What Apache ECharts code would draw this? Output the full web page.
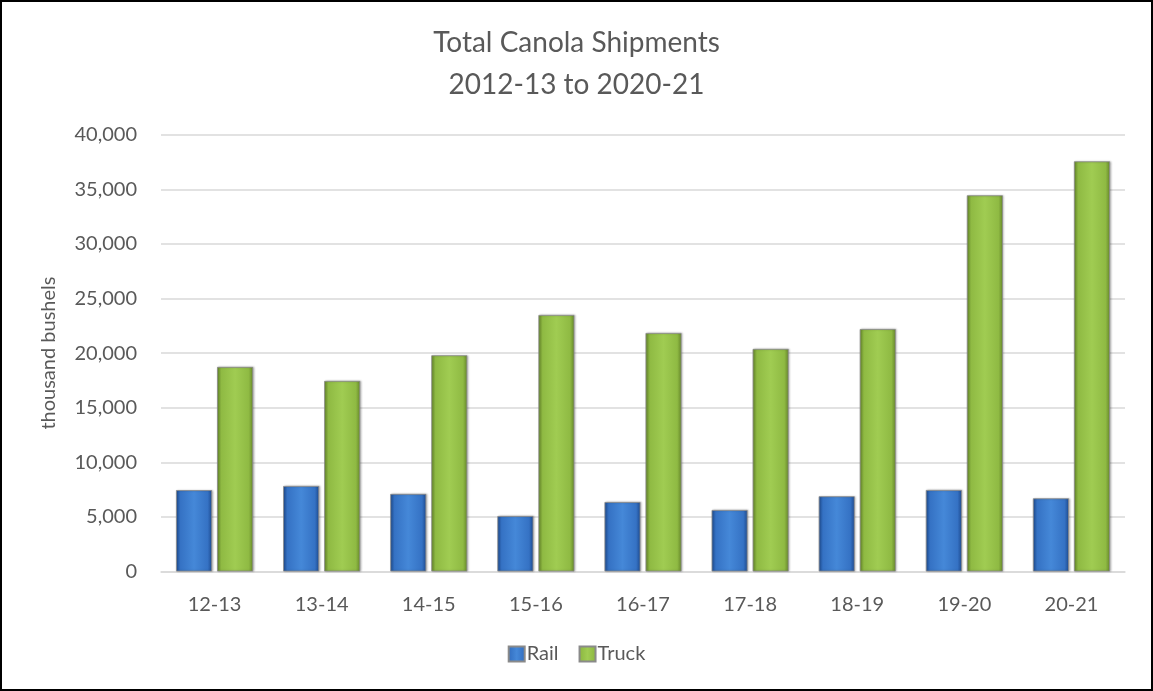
<!DOCTYPE html>
<html>
<head>
<meta charset="utf-8">
<script src="https://cdn.jsdelivr.net/npm/echarts@6/dist/echarts.min.js"></script>
<style>
html,body{margin:0;padding:0;background:#fff;}
#chart{width:1153px;height:691px;}
</style>
</head>
<body>
<div id="chart"></div>
<script>
const categories = ['12-13','13-14','14-15','15-16','16-17','17-18','18-19','19-20','20-21'];
const railValues = [7450, 7830, 7100, 5080, 6360, 5630, 6890, 7460, 6700];
const truckValues = [18730, 17450, 19800, 23490, 21840, 20380, 22200, 34450, 37560];
const seriesNames = ['Rail', 'Truck'];
const titleText = 'Total Canola Shipments\n2012-13 to 2020-21';
const yAxisName = 'thousand bushels';

const FONT = 'Lato, "Open Sans", sans-serif';
const TXT = '#595959';

function hGrad(stops){
  return new echarts.graphic.LinearGradient(0,0,1,0, stops.map(c=>({offset:c[0], color:c[1]})));
}
const railColor = hGrad([[0,'#1f4f96'],[0.12,'#3572c4'],[0.5,'#4588d8'],[0.88,'#3572c4'],[1,'#1d4a8f']]);
const truckColor = hGrad([[0,'#6a8c2c'],[0.12,'#8fba43'],[0.5,'#a0cc52'],[0.88,'#8fba43'],[1,'#66872a']]);

const chart = echarts.init(document.getElementById('chart'));
chart.setOption({
  backgroundColor:'#fff',
  animation:false,
  title:{
    text:titleText,
    left:'center',
    top:17,
    textStyle:{fontFamily:FONT,fontSize:28,fontWeight:'normal',color:TXT,lineHeight:42}
  },
  legend:{
    data:seriesNames,
    bottom:22,
    left:'center',
    icon:'rect',
    itemWidth:16,
    itemHeight:15,
    itemGap:20,
    textStyle:{fontFamily:FONT,fontSize:20,color:TXT,padding:[0,0,0,-3]}
  },
  grid:{left:161,right:28,top:134.7,bottom:119.5,containLabel:false},
  xAxis:{
    type:'category',
    data:categories,
    axisLine:{lineStyle:{color:'#d9d9d9',width:1.5}},
    axisTick:{show:false},
    axisLabel:{fontFamily:FONT,fontSize:20,color:TXT,margin:23}
  },
  yAxis:{
    type:'value',
    min:0,max:40000,interval:5000,
    name:yAxisName,
    nameLocation:'middle',
    nameGap:102,
    nameTextStyle:{fontFamily:FONT,fontSize:20,color:TXT},
    axisLine:{show:false},
    axisTick:{show:false},
    splitLine:{lineStyle:{color:'#d9d9d9',width:1.5}},
    axisLabel:{fontFamily:FONT,fontSize:20,color:TXT,margin:24,
      formatter:v=>v.toLocaleString('en-US')}
  },
  series:[
    {name:seriesNames[0],type:'bar',data:railValues,barWidth:36,barGap:'14%',
     itemStyle:{color:railColor,borderColor:'#8a8a8a',borderWidth:0.8,shadowColor:'rgba(0,0,0,0.25)',shadowBlur:2,shadowOffsetX:1,shadowOffsetY:0}},
    {name:seriesNames[1],type:'bar',data:truckValues,barWidth:36,
     itemStyle:{color:truckColor,borderColor:'#8a8a8a',borderWidth:0.8,shadowColor:'rgba(0,0,0,0.25)',shadowBlur:2,shadowOffsetX:1,shadowOffsetY:0}}
  ],
  graphic:[{type:'rect',shape:{x:1,y:1,width:1151,height:689},style:{fill:'none',stroke:'#000',lineWidth:2},silent:true}]
});
</script>
</body>
</html>
